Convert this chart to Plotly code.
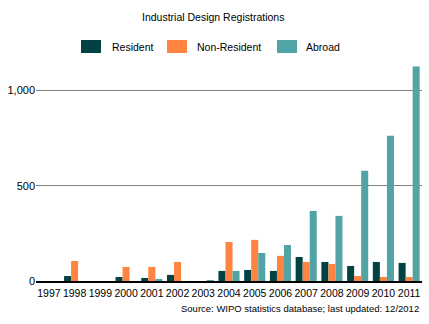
import plotly.graph_objects as go

years = [str(y) for y in range(1997, 2012)]
resident = [0, 26, 0, 21, 16, 32, 0, 53, 58, 53, 126, 100, 79, 100, 95]
non_resident = [0, 105, 0, 74, 74, 100, 0, 205, 216, 132, 100, 89, 26, 21, 21]
abroad = [0, 0, 0, 0, 11, 0, 5, 53, 147, 189, 368, 342, 579, 763, 1126]

series_names = ["Resident", "Non-Resident", "Abroad"]
series_values = [resident, non_resident, abroad]
series_colors = ["#024242", "#FF8442", "#52A4A4"]

FONT = "Liberation Sans"

fig = go.Figure()
for name, vals, col in zip(series_names, series_values, series_colors):
    fig.add_trace(go.Bar(x=years, y=vals, name=name, marker_color=col,
                         marker_line_width=0, showlegend=False))

# hand-drawn legend with large swatches
legend_x = [(81, 101, 110), (167, 187, 195), (277, 297, 304)]
W, H = 429, 324
ml, mr, mt, mb = 36, 7, 62, 43
pw, ph = W - ml - mr, H - mt - mb


def px(x):
    return (x - ml) / pw


def py(y):
    return (H - mb - y) / ph


for (x0, x1, tx), name, col in zip(legend_x, series_names, series_colors):
    fig.add_shape(type="rect", xref="paper", yref="paper",
                  x0=px(x0), x1=px(x1), y0=py(53), y1=py(40),
                  fillcolor=col, line_width=0)
    fig.add_annotation(text=name, xref="paper", yref="paper", x=px(tx), y=py(46.5),
                       xanchor="left", yanchor="middle", showarrow=False,
                       font=dict(family=FONT, size=10.5, color="#000"))

fig.add_annotation(text="Industrial Design Registrations", xref="paper", yref="paper",
                   x=px(213), y=py(17), xanchor="center", yanchor="middle",
                   showarrow=False, font=dict(family=FONT, size=10.5, color="#000"))
fig.add_annotation(text="Source: WIPO statistics database; last updated: 12/2012",
                   xref="paper", yref="paper", x=px(421), y=py(308),
                   xanchor="right", yanchor="middle", showarrow=False,
                   font=dict(family=FONT, size=9.5, color="#000"))

fig.update_layout(
    width=W, height=H,
    margin=dict(l=ml, r=mr, t=mt, b=mb),
    paper_bgcolor="white", plot_bgcolor="white",
    barmode="group", bargap=0.18, bargroupgap=0,
    font=dict(family=FONT, size=11, color="#000"),
    xaxis=dict(type="category", showgrid=False, showline=True, linecolor="#000",
               linewidth=2, ticks="", tickangle=0, tickfont=dict(size=10.5),
               ticklabelstandoff=1),
    yaxis=dict(range=[0, 1150], tickvals=[0, 500, 1000], ticktext=["0", "500", "1,000"],
               showgrid=True, gridcolor="#808080", gridwidth=1, zeroline=False,
               showline=False, ticks="", tickfont=dict(size=11)),
)

fig.write_html("out.html")
